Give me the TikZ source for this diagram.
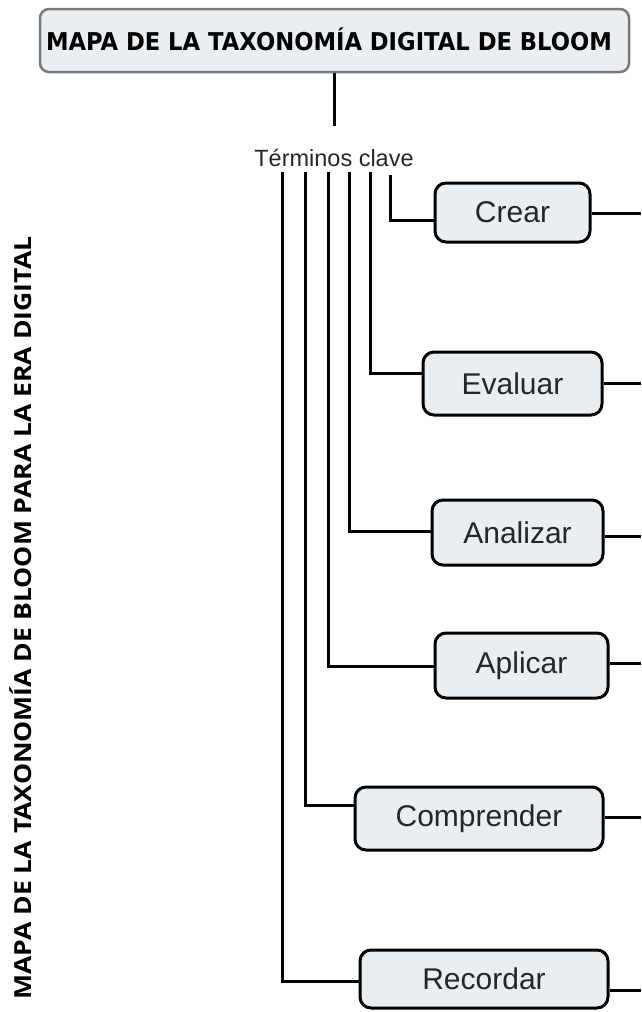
\documentclass[tikz,border=0pt]{standalone}
\usepackage{fontspec}
\usepackage{graphicx}
\setmainfont{Liberation Sans}
\newfontfamily\titlefont{DejaVu Sans}
\newfontfamily\sidefont{Open Sans}
\definecolor{boxfill}{HTML}{E9EEF3}
\definecolor{titleedge}{HTML}{7A7A7A}
\tikzset{
  level/.style={draw=black, line width=3pt, fill=boxfill, rounded corners=11pt,
    inner sep=0pt, font=\fontsize{30}{32}\selectfont, text=black!85},
  link/.style={draw=black, line width=3pt},
  titlebox/.style={draw=titleedge, line width=2.5pt, fill=boxfill, rounded corners=9pt, inner sep=0pt}
}
\begin{document}
\begin{tikzpicture}[x=1pt,y=-1pt]
\useasboundingbox (0,0) rectangle (641,1012);

% title
\node[titlebox, minimum width=589pt, minimum height=63pt] (title) at (334.5,40.5) {};
\node[anchor=base, inner sep=0pt] (titletext) at (329,50)
  {\resizebox{566pt}{\height}{\titlefont\bfseries\fontsize{24.5}{26}\selectfont MAPA DE LA TAXONOMÍA DIGITAL DE BLOOM}};

% side title
\node[anchor=base, rotate=90, inner sep=0pt] (side) at (31,618)
  {\resizebox{763pt}{\height}{\sidefont\bfseries\fontsize{23.5}{25}\selectfont MAPA DE LA TAXONOMÍA DE BLOOM PARA LA ERA DIGITAL}};

% key terms
\node[anchor=base, inner sep=0pt, font=\fontsize{23.5}{25}\selectfont, text=black!85] (terms) at (334,166) {Términos clave};
\draw[link, shorten >=22pt] (title.south) -- (title.south |- terms.north);

% level boxes
\node[level, minimum width=155pt, minimum height=59pt] (crear) at (512.5,212.5) {Crear};
\node[level, minimum width=179pt, minimum height=63pt] (evaluar) at (512.5,383.5) {Evaluar};
\node[level, minimum width=171pt, minimum height=65pt] (analizar) at (517.5,532.5) {Analizar};
\node[level, minimum width=173pt, minimum height=65pt] (aplicar) at (521.5,665.5) {Aplicar};
\node[level, minimum width=248pt, minimum height=63pt] (comprender) at (479,818.5) {Comprender};
\node[level, minimum width=248pt, minimum height=58pt] (recordar) at (484,979) {Recordar};

% starts of the branches under the key terms
\coordinate (t1) at (282,172);
\coordinate (t2) at (305,172);
\coordinate (t3) at (328,172);
\coordinate (t4) at (349,172);
\coordinate (t5) at (370,172);
\coordinate (t6) at (390,175);

\draw[link] (t6) |- (crear.west |- 0,220);
\draw[link] (t5) |- (evaluar.west |- 0,373);
\draw[link] (t4) |- (analizar.west |- 0,531);
\draw[link] (t3) |- (aplicar.west |- 0,666);
\draw[link] (t2) |- (comprender.west |- 0,805);
\draw[link] (t1) |- (recordar.west |- 0,981);

% right-hand outgoing lines
\coordinate (r1) at (641,213);
\coordinate (r2) at (641,383);
\coordinate (r3) at (641,536);
\coordinate (r4) at (641,663);
\coordinate (r5) at (641,817);
\coordinate (r6) at (641,990);
\draw[link] (crear.east |- r1) -- (r1);
\draw[link] (evaluar.east |- r2) -- (r2);
\draw[link] (analizar.east |- r3) -- (r3);
\draw[link] (aplicar.east |- r4) -- (r4);
\draw[link] (comprender.east |- r5) -- (r5);
\draw[link] (recordar.east |- r6) -- (r6);
\end{tikzpicture}
\end{document}
